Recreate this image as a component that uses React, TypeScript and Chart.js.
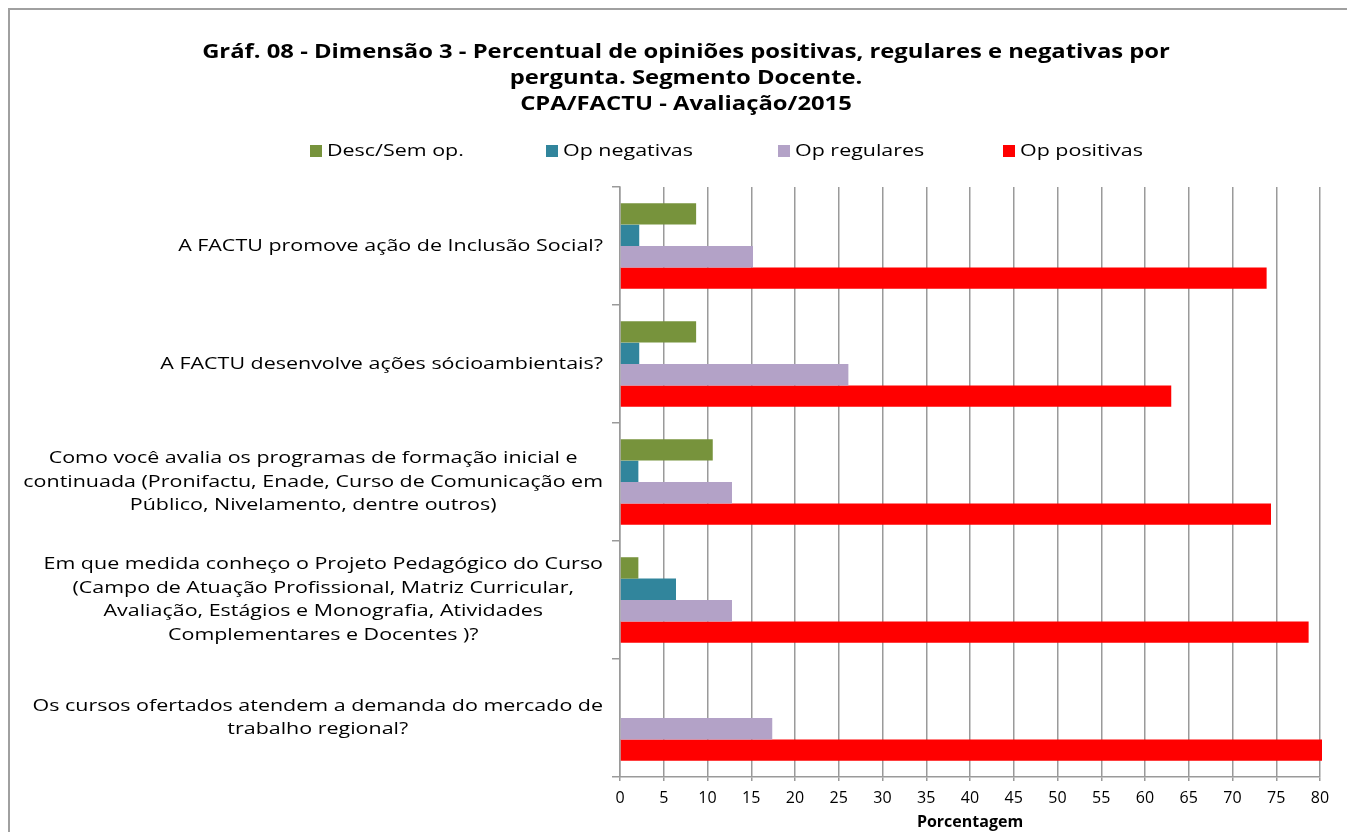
import React, { useEffect, useRef } from "react";
import { Chart, registerables } from "chart.js";

Chart.register(...registerables);

// ---------- data ----------
const categories: string[][] = [
  ["A FACTU promove ação de Inclusão Social?"],
  ["A FACTU desenvolve ações sócioambientais?"],
  [
    "Como você avalia os programas de formação inicial e",
    "continuada (Pronifactu, Enade, Curso de Comunicação em",
    "Público, Nivelamento, dentre outros)",
  ],
  [
    "Em que medida conheço o Projeto Pedagógico do Curso",
    "(Campo de Atuação Profissional, Matriz Curricular,",
    "Avaliação, Estágios e Monografia, Atividades",
    "Complementares e Docentes )?",
  ],
  [
    "Os cursos ofertados atendem a demanda do mercado de",
    "trabalho regional?",
  ],
];

const seriesNames = ["Desc/Sem op.", "Op negativas", "Op regulares", "Op positivas"];
const descSemOp = [8.7, 8.7, 10.6, 2.1, 0];
const opNegativas = [2.2, 2.2, 2.1, 6.4, 0];
const opRegulares = [15.2, 26.1, 12.8, 12.8, 17.4];
const opPositivas = [73.9, 63.0, 74.4, 78.7, 82.6];

const xMin = 0;
const xMax = 80;
const xStep = 5;

const titleLines = [
  "Gráf. 08 - Dimensão 3 - Percentual de opiniões positivas, regulares e negativas por",
  "pergunta. Segmento Docente.",
  "CPA/FACTU - Avaliação/2015",
];
const xAxisTitle = "Porcentagem";

// ---------- style ----------
const FONT = "'Open Sans', sans-serif";
const COLORS = ["#77933C", "#31859C", "#B3A2C7", "#FF0000"];
const GRID = "#9a9a9a";
const SX = 1.34; // horizontal stretch of the wide text in the reference
const TITLE_SX = 1.19;

export default function App() {
  const ref = useRef<HTMLCanvasElement>(null);

  useEffect(() => {
    document.documentElement.style.overflow = "hidden";
    document.body.style.overflow = "hidden";
    const canvas = ref.current;
    if (!canvas) return;

    const titlePlugin = {
      id: "stretchTitle",
      afterDraw(chart: any) {
        const ctx = chart.ctx as CanvasRenderingContext2D;
        const cx = 676;
        const y0 = 42;
        const lh = 26;
        ctx.save();
        ctx.font = `bold 20px ${FONT}`;
        ctx.fillStyle = "#000";
        ctx.textAlign = "center";
        ctx.textBaseline = "middle";
        titleLines.forEach((line, k) => {
          ctx.save();
          ctx.translate(cx, y0 + k * lh);
          ctx.scale(TITLE_SX, 1);
          ctx.fillText(line, 0, 0);
          ctx.restore();
        });
        ctx.restore();
      },
    };

    const legendPlugin = {
      id: "stretchLegend",
      afterDraw(chart: any) {
        const ctx = chart.ctx as CanvasRenderingContext2D;
        const xs = [300, 536, 768, 993];
        const y = 141;
        ctx.save();
        ctx.font = `16px ${FONT}`;
        ctx.textBaseline = "middle";
        chart.data.datasets.forEach((ds: any, i: number) => {
          ctx.fillStyle = ds.backgroundColor;
          ctx.fillRect(xs[i], y - 6, 12, 12);
          ctx.save();
          ctx.translate(xs[i] + 17, y);
          ctx.scale(SX, 1);
          ctx.fillStyle = "#000";
          ctx.textAlign = "left";
          ctx.fillText(ds.label, 0, 0);
          ctx.restore();
        });
        ctx.restore();
      },
    };

    const yLabelPlugin = {
      id: "yLabels",
      afterDraw(chart: any) {
        const ctx = chart.ctx as CanvasRenderingContext2D;
        const yScale = chart.scales.y;
        const right = chart.chartArea.left - 17;
        const lh = 23.5;
        ctx.save();
        ctx.font = `16px ${FONT}`;
        ctx.fillStyle = "#000";
        ctx.textBaseline = "middle";
        ctx.textAlign = "center";
        (chart.data.labels as string[][]).forEach((lines, i) => {
          const yc = yScale.getPixelForTick(i);
          const w = Math.max(...lines.map((l) => ctx.measureText(l).width)) * SX;
          const cx = right - w / 2;
          const y0 = yc - ((lines.length - 1) * lh) / 2;
          lines.forEach((line, k) => {
            ctx.save();
            ctx.translate(cx, y0 + k * lh);
            ctx.scale(SX, 1);
            ctx.fillText(line, 0, 0);
            ctx.restore();
          });
        });
        ctx.restore();
      },
    };

    const series = [descSemOp, opNegativas, opRegulares, opPositivas];

    const chart = new Chart(canvas, {
      type: "bar",
      data: {
        labels: categories as any,
        datasets: series.map((d, i) => ({
          label: seriesNames[i],
          data: d,
          backgroundColor: COLORS[i],
          borderWidth: 0,
          barPercentage: 1,
          categoryPercentage: 0.725,
          clip: { left: 0, top: 0, right: 2, bottom: 0 } as any,
        })),
      },
      options: {
        indexAxis: "y",
        animation: false,
        responsive: false,
        devicePixelRatio: 1,
        layout: { padding: { left: 0, right: 28, top: 177, bottom: 0 } },
        plugins: {
          legend: { display: false },
          tooltip: { enabled: false },
          title: { display: false },
        },
        scales: {
          x: {
            type: "linear",
            min: xMin,
            max: xMax,
            ticks: {
              stepSize: xStep,
              color: "#000",
              font: { family: FONT, size: 16 },
              padding: 8,
              maxRotation: 0,
            },
            grid: { color: GRID, lineWidth: 1.5, tickLength: 4, drawTicks: true },
            border: { color: GRID, width: 1.5 },
            title: {
              display: true,
              text: xAxisTitle,
              color: "#000",
              font: { family: FONT, size: 16, weight: "bold" },
              padding: { top: 0, bottom: 2 },
            },
            afterFit: (s: any) => {
              s.height = 57;
            },
          },
          y: {
            type: "category",
            ticks: { display: false },
            grid: {
              drawOnChartArea: false,
              drawTicks: true,
              tickLength: 8,
              color: GRID,
              lineWidth: 1.5,
              offset: true,
            },
            border: { color: GRID, width: 1.5 },
            afterFit: (s: any) => {
              s.width = 610;
            },
          },
        },
      },
      plugins: [titlePlugin, legendPlugin, yLabelPlugin],
    });

    return () => chart.destroy();
  }, []);

  return (
    <div
      style={{
        width: 1338,
        height: 824,
        borderLeft: "2px solid #a0a0a0",
        borderTop: "2px solid #a0a0a0",
        borderRight: "2px solid #a0a0a0",
        background: "#fff",
      }}
    >
      <canvas ref={ref} width={1338} height={824} style={{ display: "block" }} />
    </div>
  );
}
